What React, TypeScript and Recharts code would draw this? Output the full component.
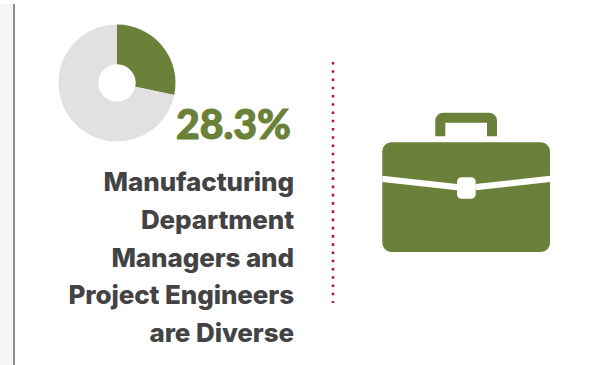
import React from "react";
import { PieChart, Pie, Cell } from "recharts";

const segmentNames = ["Diverse", "Other"];
const segmentValues = [28.3, 71.7];
const segmentColors = ["#6b8039", "#e2e0e2"];
const headline = "28.3%";
const captionLines = [
  "Manufacturing",
  "Department",
  "Managers and",
  "Project Engineers",
  "are Diverse",
];

const pieData = segmentNames.map((name, i) => ({ name, value: segmentValues[i] }));
const FONT = "Inter, 'Open Sans', sans-serif";
const HEADLINE_FONT = "Lato, 'Open Sans', sans-serif";
const GREEN = "#6b8039";

export default function App() {
  return (
    <div style={{ position: "absolute", left: 0, top: 0, width: 616, height: 365, background: "#fff" }}>
      <PieChart width={616} height={365} margin={{ top: 0, right: 0, bottom: 0, left: 0 }}>
        {/* page gutter and rule */}
        <rect x={0} y={4} width={14} height={361} fill="#f5f5f5" />
        <line x1={14} y1={4} x2={14} y2={365} stroke="#6a6a6a" strokeWidth={1.5} />

        <Pie
          data={pieData}
          dataKey="value"
          cx={117}
          cy={83}
          innerRadius={18.7}
          outerRadius={58.5}
          startAngle={90}
          endAngle={-270}
          stroke="none"
          isAnimationActive={false}
        >
          {pieData.map((d, i) => (
            <Cell key={d.name} fill={segmentColors[i]} />
          ))}
        </Pie>

        <text
          x={291}
          y={139}
          textAnchor="end"
          fontFamily={HEADLINE_FONT}
          fontWeight={900}
          fontSize={41}
          stroke={GREEN}
          strokeWidth={1}
          fill={GREEN}
        >
          {headline}
        </text>
        {captionLines.map((line, i) => (
          <text
            key={line}
            x={294}
            y={191 + i * 37.8}
            textAnchor="end"
            fontFamily={FONT}
            fontWeight={800}
            fontSize={26}
            letterSpacing={-0.1}
            fill="#434345"
          >
            {line}
          </text>
        ))}

        {/* dotted divider */}
        <line
          x1={333}
          y1={62}
          x2={333}
          y2={303}
          stroke="#b01c2e"
          strokeWidth={2.6}
          strokeDasharray="2.6 5.64"
        />

        {/* briefcase icon */}
        <path
          d="M435.3 136.3 V120.7 a8 8 0 0 1 8 -8 H489 a8 8 0 0 1 8 8 V136.3 H487 V122.7 H445.3 V136.3 Z"
          fill={GREEN}
        />
        <rect x={382.3} y={142.3} width={167.7} height={109.7} rx={9} fill={GREEN} />
        <path d="M382.3 175.7 L457 184 V190.3 L382.3 182 Z M550 175.7 L475.7 184 V190.3 L550 182 Z" fill="#fff" />
        <rect x={457} y={177.3} width={18.7} height={21.4} rx={4.5} fill="#fff" />
      </PieChart>
    </div>
  );
}
